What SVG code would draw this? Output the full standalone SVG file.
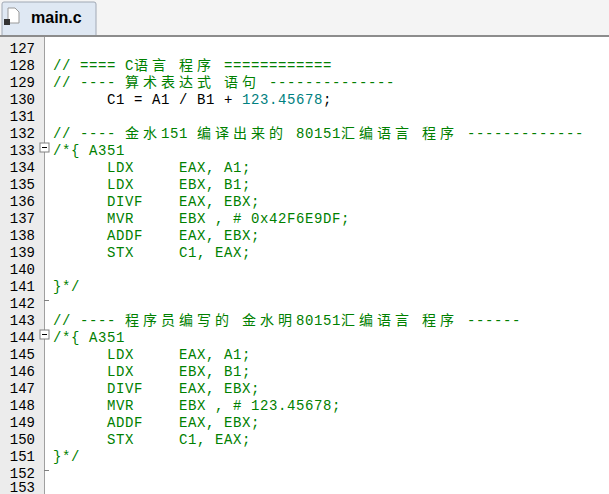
<svg xmlns="http://www.w3.org/2000/svg" width="609" height="494" viewBox="0 0 609 494">
<style>
text{font-family:"Liberation Mono","Noto Sans CJK SC",monospace;font-size:14px;letter-spacing:0.6px;white-space:pre}
.c{fill:#008000}.n{fill:#008080}.k{fill:#000}
.z{letter-spacing:4px}
.ln{fill:#000;text-anchor:end;letter-spacing:0}
</style>
<rect width="609" height="494" fill="#fff"/>
<g id="tabbar">
<rect width="609" height="36" fill="#f4f4f4"/>
<path d="M2 36V4Q2 2 4 2H94Q96 2 96 4V36" fill="#dfe8f3" stroke="#a0a8b4"/>
<rect x="0" y="35" width="609" height="2" fill="#8c8c8c"/>
<path d="M8 8H15L19 12V23H8Z" fill="#fff" stroke="#999"/>
<rect x="4" y="19" width="6" height="6" fill="#333"/>
<text x="31" y="23" style="font-family:'Liberation Sans',sans-serif;font-weight:bold;font-size:16px;letter-spacing:0" class="k">main.c</text>
</g>
<g id="gutter">
<rect x="0" y="37" width="44" height="457" fill="#ececec"/>
<line x1="44.5" y1="37" x2="44.5" y2="494" stroke="#a0a0a0"/>
<rect x="40" y="143" width="9" height="9" fill="#fff" stroke="#808080"/><line x1="42" y1="147.5" x2="47" y2="147.5" stroke="#000"/>
<rect x="40" y="330" width="9" height="9" fill="#fff" stroke="#808080"/><line x1="42" y1="334.5" x2="47" y2="334.5" stroke="#000"/>
<line x1="44" y1="300.5" x2="49" y2="300.5" stroke="#808080"/>
<line x1="44" y1="470.5" x2="49" y2="470.5" stroke="#808080"/>
<g>
<text class="ln" x="35" y="53">127</text><text class="ln" x="35" y="70">128</text><text class="ln" x="35" y="87">129</text><text class="ln" x="35" y="104">130</text><text class="ln" x="35" y="121">131</text><text class="ln" x="35" y="138">132</text><text class="ln" x="35" y="155">133</text><text class="ln" x="35" y="172">134</text><text class="ln" x="35" y="189">135</text><text class="ln" x="35" y="206">136</text><text class="ln" x="35" y="223">137</text><text class="ln" x="35" y="240">138</text><text class="ln" x="35" y="257">139</text><text class="ln" x="35" y="274">140</text><text class="ln" x="35" y="291">141</text><text class="ln" x="35" y="308">142</text><text class="ln" x="35" y="325">143</text><text class="ln" x="35" y="342">144</text><text class="ln" x="35" y="359">145</text><text class="ln" x="35" y="376">146</text><text class="ln" x="35" y="393">147</text><text class="ln" x="35" y="410">148</text><text class="ln" x="35" y="427">149</text><text class="ln" x="35" y="444">150</text><text class="ln" x="35" y="461">151</text><text class="ln" x="35" y="478">152</text><text class="ln" x="35" y="492">153</text>
</g>
</g>
<g id="code">
<text class="c" y="70"><tspan x="53">// ==== C</tspan><tspan x="134" class="z">语言</tspan><tspan x="179" class="z">程序</tspan><tspan x="215"> ============</tspan></text>
<text class="c" y="87"><tspan x="53">// ---- </tspan><tspan x="125" class="z">算术表达式</tspan><tspan x="224" class="z">语句</tspan><tspan x="260"> --------------</tspan></text>
<text class="k" y="104"><tspan x="107">C1 = A1 / B1 + </tspan><tspan class="n">123.45678</tspan>;</text>
<text class="c" y="138"><tspan x="53">// ---- </tspan><tspan x="125" class="z">金水</tspan><tspan x="161">151 </tspan><tspan x="197" class="z">编译出来的</tspan><tspan x="287"> 80151</tspan><tspan x="341" class="z">汇编语言</tspan><tspan x="422" class="z">程序</tspan><tspan x="458"> -------------</tspan></text>
<text class="c" x="53" y="155">/*{ A351</text>
<text class="c" x="107" y="172">LDX     EAX, A1;</text>
<text class="c" x="107" y="189">LDX     EBX, B1;</text>
<text class="c" x="107" y="206">DIVF    EAX, EBX;</text>
<text class="c" x="107" y="223">MVR     EBX , # 0x42F6E9DF;</text>
<text class="c" x="107" y="240">ADDF    EAX, EBX;</text>
<text class="c" x="107" y="257">STX     C1, EAX;</text>
<text class="c" x="53" y="291">}*/</text>
<text class="c" y="325"><tspan x="53">// ---- </tspan><tspan x="125" class="z">程序员编写的</tspan><tspan x="242" class="z">金水明</tspan><tspan x="296">80151</tspan><tspan x="341" class="z">汇编语言</tspan><tspan x="422" class="z">程序</tspan><tspan x="458"> ------</tspan></text>
<text class="c" x="53" y="342">/*{ A351</text>
<text class="c" x="107" y="359">LDX     EAX, A1;</text>
<text class="c" x="107" y="376">LDX     EBX, B1;</text>
<text class="c" x="107" y="393">DIVF    EAX, EBX;</text>
<text class="c" x="107" y="410">MVR     EBX , # 123.45678;</text>
<text class="c" x="107" y="427">ADDF    EAX, EBX;</text>
<text class="c" x="107" y="444">STX     C1, EAX;</text>
<text class="c" x="53" y="461">}*/</text>
</g>
</svg>
